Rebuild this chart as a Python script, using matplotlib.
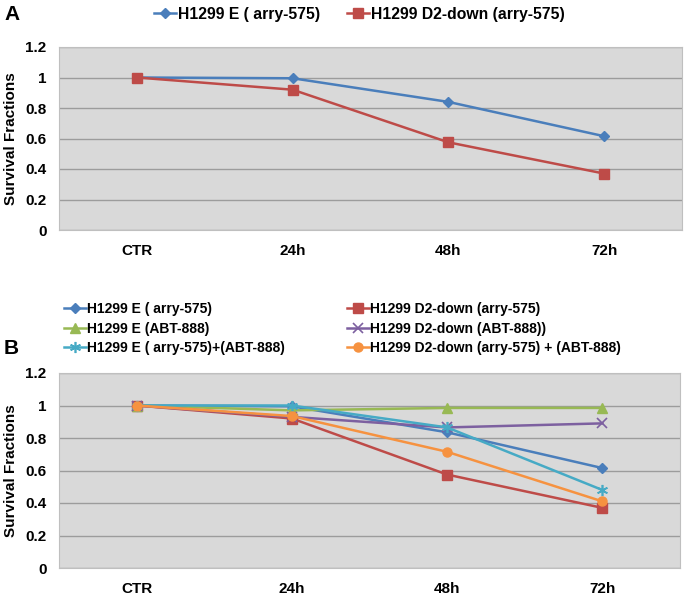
import matplotlib
matplotlib.use("Agg")
import matplotlib.pyplot as plt
from matplotlib.lines import Line2D

categories = ["CTR", "24h", "48h", "72h"]
yticks = [0, 0.2, 0.4, 0.6, 0.8, 1, 1.2]
ytick_labels = ["0", "0.2", "0.4", "0.6", "0.8", "1", "1.2"]

# Panel A
a_e_arry = [1.0, 0.995, 0.84, 0.615]
a_d2_arry = [1.0, 0.92, 0.575, 0.37]

# Panel B
b_e_arry = [1.0, 0.995, 0.835, 0.615]
b_d2_arry = [1.0, 0.92, 0.575, 0.37]
b_e_abt = [1.0, 0.97, 0.985, 0.985]
b_d2_abt = [1.0, 0.93, 0.865, 0.89]
b_e_combo = [1.0, 1.0, 0.865, 0.48]
b_d2_combo = [1.0, 0.935, 0.715, 0.41]

names = {
    "e_arry": "H1299 E ( arry-575)",
    "d2_arry": "H1299 D2-down (arry-575)",
    "e_abt": "H1299 E (ABT-888)",
    "d2_abt": "H1299 D2-down (ABT-888))",
    "e_combo": "H1299 E ( arry-575)+(ABT-888)",
    "d2_combo": "H1299 D2-down (arry-575) + (ABT-888)",
}

styles = {
    "e_arry": dict(color="#4A7EBB", marker="D", markersize=5.5),
    "d2_arry": dict(color="#BE4B48", marker="s", markersize=7),
    "e_abt": dict(color="#98B954", marker="^", markersize=7),
    "d2_abt": dict(color="#7D60A0", marker="x", markersize=7, markeredgewidth=1.2),
    "e_combo": dict(color="#46AAC5", marker=(6, 2, 0), markersize=8, markeredgewidth=1.2),
    "d2_combo": dict(color="#F69240", marker="o", markersize=6.5),
}

W, H = 686, 598
fig = plt.figure(figsize=(W / 100, H / 100), dpi=100)

fam = ["Liberation Sans", "DejaVu Sans"]
plt.rcParams["font.family"] = fam


def px_axes(l, r, t, b):
    return fig.add_axes([l / W, 1 - b / H, (r - l) / W, (b - t) / H])


def style_axes(ax):
    ax.set_facecolor("#D9D9D9")
    ax.set_xlim(-0.5, len(categories) - 0.5)
    ax.set_ylim(0, 1.2)
    ax.set_yticks(yticks)
    ax.set_yticklabels(ytick_labels, fontsize=11, fontweight="bold")
    ax.set_xticks(range(len(categories)))
    ax.set_xticklabels(categories, fontsize=11, fontweight="bold")
    ax.tick_params(axis="both", length=0)
    ax.tick_params(axis="x", pad=10)
    ax.tick_params(axis="y", pad=9)
    ax.grid(axis="y", color="#9C9C9C", linewidth=1.0)
    ax.set_axisbelow(True)
    for s in ax.spines.values():
        s.set_color("#BFBFBF")
        s.set_linewidth(0.8)
    ax.set_ylabel("Survival Fractions", fontsize=11, fontweight="bold")
    ax.yaxis.set_label_coords(-41 / ax.bbox.width, 0.5)


def plot_series(ax, key, vals):
    st = styles[key]
    ax.plot(range(len(categories)), vals, linewidth=1.8, label=names[key],
            markeredgecolor=st["color"], **st)


def legend_entry(key, x, y, size):
    st = styles[key]
    h = Line2D([], [], linewidth=1.8, markeredgecolor=st["color"], **st)
    fig.legend(handles=[h], labels=[names[key]], loc="center left",
               bbox_to_anchor=(x / W, 1 - y / H), frameon=False,
               borderpad=0, borderaxespad=0, handlelength=22 / (size * 1.389),
               handletextpad=0.1, prop=dict(family=fam, weight="bold", size=size))


# Panel A
axA = px_axes(59, 682, 47, 230)
style_axes(axA)
plot_series(axA, "e_arry", a_e_arry)
plot_series(axA, "d2_arry", a_d2_arry)
legend_entry("e_arry", 154, 14, 11.3)
legend_entry("d2_arry", 347, 14, 11.3)
fig.text(4 / W, 1 - 15 / H, "A", fontsize=15, fontweight="bold", va="center", ha="left")

# Panel B
axB = px_axes(59, 680, 373, 568)
style_axes(axB)
for key, vals in [("e_arry", b_e_arry), ("d2_arry", b_d2_arry), ("e_abt", b_e_abt),
                  ("d2_abt", b_d2_abt), ("e_combo", b_e_combo), ("d2_combo", b_d2_combo)]:
    plot_series(axB, key, vals)
legend_entry("e_arry", 64, 309, 10)
legend_entry("d2_arry", 347, 309, 10)
legend_entry("e_abt", 64, 329, 10)
legend_entry("d2_abt", 347, 329, 10)
legend_entry("e_combo", 64, 348, 10)
legend_entry("d2_combo", 347, 348, 10)
fig.text(4 / W, 1 - 349 / H, "B", fontsize=15, fontweight="bold", va="center", ha="left")

fig.savefig("out.png", dpi=100)
